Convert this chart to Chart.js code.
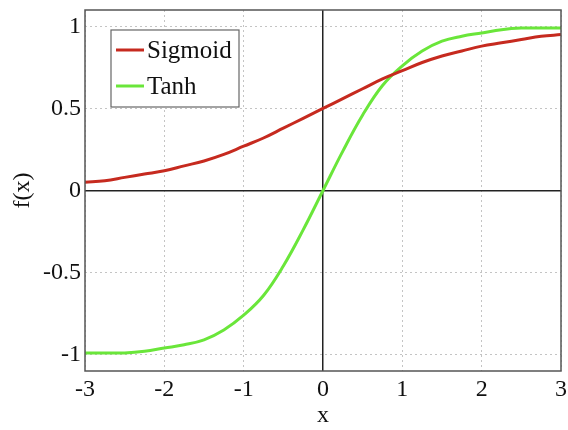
<!DOCTYPE html>
<html>
<head>
    <title>Sigmoid vs Tanh</title>
    <script src="https://cdn.jsdelivr.net/npm/chart.js"></script>
    <style>
        body { margin: 0; background: #fff; }
    </style>
</head>
<body>
    <canvas id="actChart" width="568" height="430"></canvas>

    <script>
        // values
        const xs = [-3, -2.75, -2.5, -2.25, -2, -1.75, -1.5, -1.25, -1, -0.75, -0.5, -0.25, 0,
                    0.25, 0.5, 0.75, 1, 1.25, 1.5, 1.75, 2, 2.25, 2.5, 2.75, 3];
        const sigmoidVals = [0.05, 0.06, 0.08, 0.10, 0.12, 0.15, 0.18, 0.22, 0.27, 0.32, 0.38, 0.44, 0.5,
                             0.56, 0.62, 0.68, 0.73, 0.78, 0.82, 0.85, 0.88, 0.90, 0.92, 0.94, 0.95];
        const tanhVals = [-0.99, -0.99, -0.99, -0.98, -0.96, -0.94, -0.91, -0.85, -0.76, -0.64, -0.46, -0.24, 0,
                          0.24, 0.46, 0.64, 0.76, 0.85, 0.91, 0.94, 0.96, 0.98, 0.99, 0.99, 0.99];
        const seriesNames = ['Sigmoid', 'Tanh'];
        const xTicks = [-3, -2, -1, 0, 1, 2, 3];
        const yTicks = [-1, -0.5, 0, 0.5, 1];

        const serif = 'Liberation Serif, Times New Roman, serif';

        // frame around plot area + legend box in the upper left corner
        const framePlugin = {
            id: 'frame',
            afterDatasetsDraw(chart) {
                const {ctx, chartArea: a} = chart;
                ctx.save();
                ctx.strokeStyle = '#555';
                ctx.lineWidth = 1.5;
                ctx.strokeRect(a.left, a.top, a.right - a.left, a.bottom - a.top);

                const bx = 111, by = 30, bw = 128, bh = 77;
                ctx.fillStyle = '#fff';
                ctx.fillRect(bx, by, bw, bh);
                ctx.strokeStyle = '#666';
                ctx.lineWidth = 1.2;
                ctx.strokeRect(bx, by, bw, bh);
                ctx.font = '25px ' + serif;
                ctx.textBaseline = 'middle';
                chart.data.datasets.forEach((ds, i) => {
                    const y = by + 20 + i * 36;
                    ctx.strokeStyle = ds.borderColor;
                    ctx.lineWidth = 3;
                    ctx.beginPath();
                    ctx.moveTo(116, y);
                    ctx.lineTo(144, y);
                    ctx.stroke();
                    ctx.fillStyle = '#111';
                    ctx.fillText(ds.label, 147, y + 1);
                });
                ctx.restore();
            }
        };

        const gridColor = c => (c.tick && c.tick.value === 0) ? '#222' : '#c4c4c4';
        const gridWidth = c => (c.tick && c.tick.value === 0) ? 1.5 : 1;
        const gridDash = c => (c.tick && c.tick.value === 0) ? [] : [2, 3];
        const noPad = s => { s.paddingLeft = 0; s.paddingRight = 0; s.paddingTop = 0; s.paddingBottom = 0; };

        new Chart(document.getElementById('actChart'), {
            type: 'line',
            data: {
                datasets: [{
                    label: seriesNames[0],
                    data: xs.map((x, i) => ({x: x, y: sigmoidVals[i]})),
                    borderColor: '#c62a1f',
                    borderWidth: 3,
                    pointRadius: 0,
                    tension: 0.4,
                    fill: false
                }, {
                    label: seriesNames[1],
                    data: xs.map((x, i) => ({x: x, y: tanhVals[i]})),
                    borderColor: '#6ae63a',
                    borderWidth: 3,
                    pointRadius: 0,
                    tension: 0.4,
                    fill: false
                }]
            },
            options: {
                responsive: false,
                animation: false,
                layout: { padding: { left: 8, right: 7, top: 10, bottom: 0 } },
                plugins: {
                    legend: { display: false },
                    tooltip: { enabled: false }
                },
                scales: {
                    x: {
                        type: 'linear',
                        min: -3, max: 3,
                        afterBuildTicks: s => { s.ticks = xTicks.map(v => ({value: v})); },
                        afterFit: s => { s.height = 59; noPad(s); },
                        ticks: { color: '#111', font: { family: serif, size: 24 }, padding: 4, callback: v => String(v) },
                        grid: { color: gridColor, lineWidth: gridWidth, drawTicks: false },
                        border: { display: false, dash: gridDash },
                        title: { display: true, text: 'x', color: '#111', font: { family: serif, size: 24 }, padding: { top: 0, bottom: 0 } }
                    },
                    y: {
                        min: -1.1, max: 1.1,
                        afterBuildTicks: s => { s.ticks = yTicks.map(v => ({value: v})); },
                        afterFit: s => { s.width = 77; noPad(s); },
                        ticks: { color: '#111', font: { family: serif, size: 24 }, padding: 4, callback: v => String(v) },
                        grid: { color: gridColor, lineWidth: gridWidth, drawTicks: false },
                        border: { display: false, dash: gridDash },
                        title: { display: true, text: 'f(x)', color: '#111', font: { family: serif, size: 24 }, padding: { top: 0, bottom: 0 } }
                    }
                }
            },
            plugins: [framePlugin]
        });
    </script>
</body>
</html>
